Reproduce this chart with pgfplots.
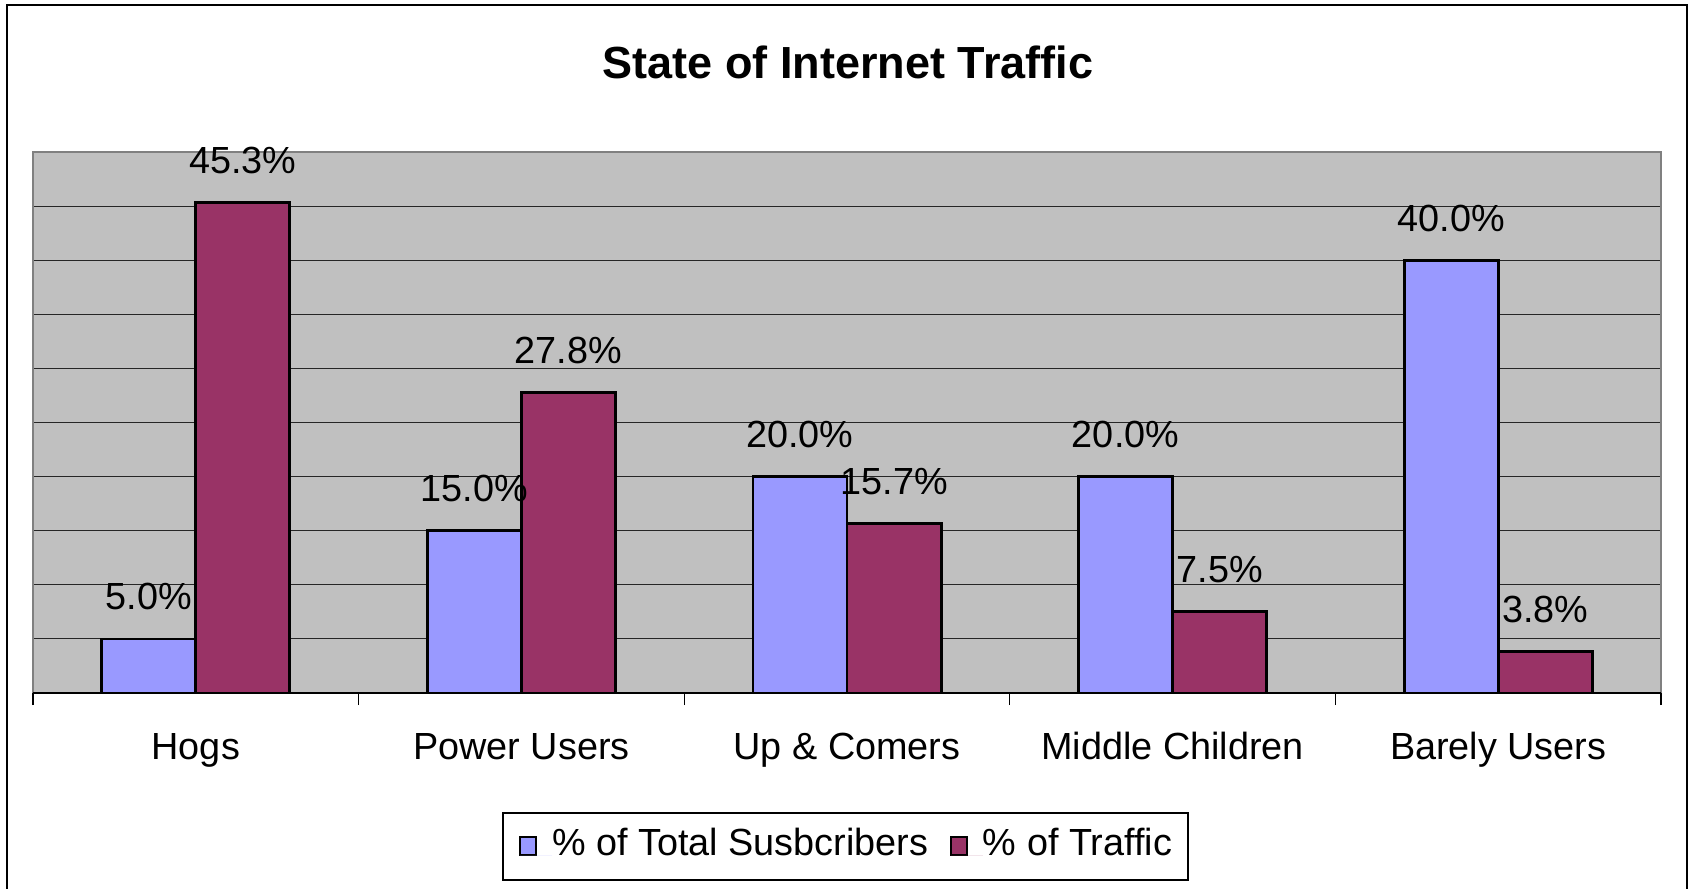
\documentclass[border=0pt]{standalone}
\usepackage{fontspec}
\setmainfont{Liberation Sans}
\usepackage{pgfplots}
\pgfplotsset{compat=1.18}
\definecolor{subs}{HTML}{9999FF}
\definecolor{traf}{HTML}{993366}
\definecolor{plotbg}{HTML}{C0C0C0}
\definecolor{frame}{HTML}{808080}
\begin{document}
\begin{tikzpicture}
\useasboundingbox (0bp,0bp) rectangle (844.5bp,444.5bp);
\draw[line width=1.2bp] (3.5bp,-2bp) -- (3.5bp,442bp) -- (843.5bp,442bp) -- (843.5bp,-2bp);
\node[font=\bfseries\fontsize{22.5bp}{27bp}\selectfont, anchor=base] at (424bp,405bp) {State of Internet Traffic};
\begin{axis}[
  at={(16.5bp,98bp)}, anchor=south west,
  width=814bp, height=270.5bp, scale only axis,
  clip=false,
  /pgf/number format/assume math mode=true,
  axis background/.style={fill=plotbg},
  axis line style={draw=none},
  ybar, bar width=0.289,
  xmin=-0.5, xmax=4.5, ymin=0, ymax=50,
  xtick={0,1,2,3,4},
  xticklabels={Hogs, Power Users, Up \& Comers, Middle Children, Barely Users},
  minor xtick={-0.5,0.5,1.5,2.5,3.5,4.5},
  xtick pos=bottom,
  tick align=outside,
  major tick length=0pt,
  minor tick length=6bp,
  minor tick style={black, line width=0.6bp},
  xticklabel style={anchor=base, yshift=-33bp, font=\fontsize{18.9bp}{22bp}\selectfont},
  ytick={5,10,...,45},
  yticklabels={},
  ytick style={draw=none},
  ymajorgrids,
  grid style={black!85, line width=0.5bp},
  nodes near coords={\pgfmathprintnumber[fixed,fixed zerofill,precision=1]{\pgfplotspointmeta}\%},
  every node near coord/.append style={anchor=base, yshift=14.5bp, text=black, font=\fontsize{18.9bp}{22bp}\selectfont},
  legend columns=2,
  legend style={at={(0.4991,-0.2837)}, anchor=center,
    draw=black, line width=0.6bp, fill=white,
    inner xsep=8bp, inner ysep=8bp,
    /tikz/every even column/.append style={column sep=10.8bp},
    nodes={inner xsep=0pt, inner ysep=0pt, text height=13.5bp, text depth=4bp, anchor=base west},
    font=\fontsize{18.9bp}{22bp}\selectfont},
  legend image code/.code={\draw[#1, line width=1.1bp] (0bp,0.5bp) rectangle (8bp,9.5bp); \path[draw=none] (0bp,0bp) -- (16bp,0bp);},
]
\addplot[fill=subs, draw=black, line width=1.4bp, bar shift=-0.1445] coordinates {(0,5) (1,15) (2,20) (3,20) (4,40)};
\addplot[fill=traf, draw=black, line width=1.4bp, bar shift=0.1445] coordinates {(0,45.3) (1,27.8) (2,15.7) (3,7.5) (4,3.8)};
\legend{\% of Total Susbcribers, \% of Traffic}
\draw[frame, line width=1bp] (rel axis cs:0,0) -- (rel axis cs:0,1) -- (rel axis cs:1,1) -- (rel axis cs:1,0);
\draw[black, line width=1bp] (rel axis cs:0,0) -- (rel axis cs:1,0);
\end{axis}
\end{tikzpicture}
\end{document}
